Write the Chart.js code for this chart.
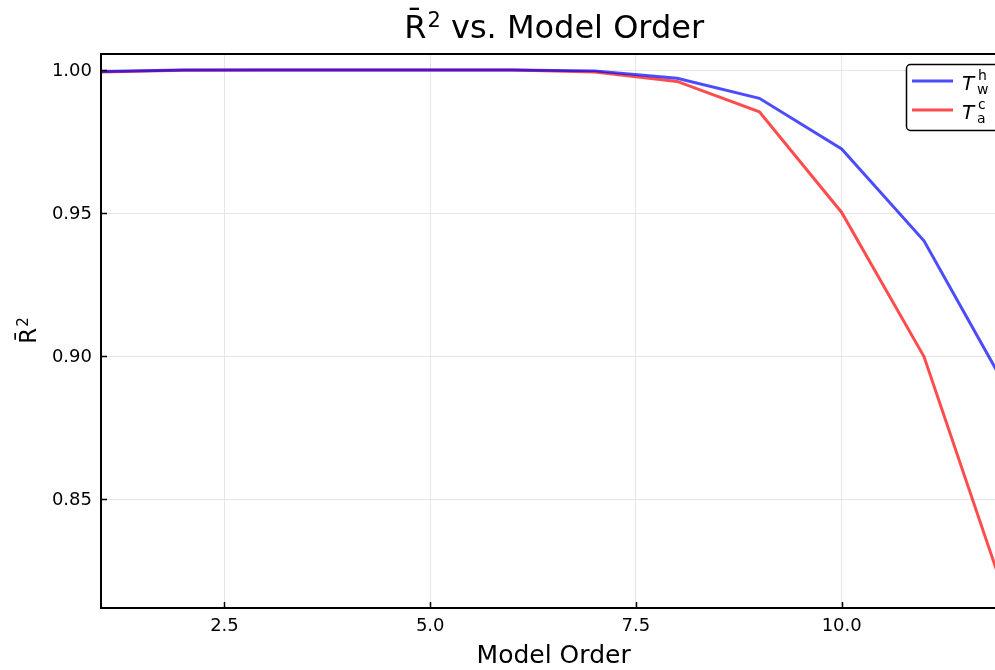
<!DOCTYPE html>
<html>
<head>
<meta charset="utf-8">
<script src="https://cdn.jsdelivr.net/npm/chart.js@4.4.1/dist/chart.umd.min.js"></script>
<style>
  html, body { margin: 0; padding: 0; background: #ffffff; }
  #wrap { width: 995px; height: 670px; position: relative; }
</style>
</head>
<body>
<div id="wrap"><canvas id="c" width="995" height="670"></canvas></div>
<script>
// Model orders evaluated
const modelOrder = [1, 2, 3, 4, 5, 6, 7, 8, 9, 10, 11, 12];
// Adjusted R² for each fitted temperature series
const r2Tw = [0.9995, 1.0, 1.0, 1.0, 1.0, 1.0, 0.9997, 0.9971, 0.9901, 0.9724, 0.9403, 0.8889];
const r2Ta = [0.9993, 0.9999, 1.0, 1.0, 1.0, 1.0, 0.9993, 0.9960, 0.9854, 0.9502, 0.8998, 0.8151];
// Tick positions
const xTicks = [2.5, 5.0, 7.5, 10.0];
const yTicks = [0.85, 0.90, 0.95, 1.00];
// Text
const titleMain = 'R\u0304';
const titleSup = '2';
const titleRest = ' vs. Model Order';
const xTitle = 'Model Order';
const yTitleMain = 'R\u0304';
const yTitleSup = '2';

const FONT = "'DejaVu Sans', sans-serif";

const toPoints = (xs, ys) => xs.map((x, i) => ({ x: x, y: ys[i] }));

// Draws "base" with a raised superscript, centred on (cx, baseline)
function drawSupText(ctx, cx, baseline, base, sup, rest, size, supSize, rise) {
  ctx.font = size + 'px ' + FONT;
  const w1 = ctx.measureText(base).width;
  const w3 = rest ? ctx.measureText(rest).width : 0;
  ctx.font = supSize + 'px ' + FONT;
  const w2 = ctx.measureText(sup).width;
  let x = cx - (w1 + w2 + w3) / 2;
  ctx.textAlign = 'left';
  ctx.textBaseline = 'alphabetic';
  ctx.font = size + 'px ' + FONT;
  ctx.fillText(base, x, baseline);
  x += w1;
  ctx.font = supSize + 'px ' + FONT;
  ctx.fillText(sup, x + 1, baseline - rise);
  x += w2 + 1;
  if (rest) {
    ctx.font = size + 'px ' + FONT;
    ctx.fillText(rest, x, baseline);
  }
}

// Titles, frame, inward tick marks and a boxed legend with sub/superscripted labels
const framePlugin = {
  id: 'frame',
  afterDatasetsDraw(chart) {
    const { ctx, chartArea: a, scales } = chart;
    ctx.save();
    ctx.strokeStyle = '#000';
    ctx.lineWidth = 2;
    ctx.beginPath();
    ctx.moveTo(a.right + 2, a.top);
    ctx.lineTo(a.left, a.top);
    ctx.lineTo(a.left, a.bottom);
    ctx.lineTo(a.right + 2, a.bottom);
    ctx.stroke();
    ctx.lineWidth = 1.5;
    ctx.beginPath();
    xTicks.forEach(v => {
      const px = Math.round(scales.x.getPixelForValue(v)) + 0.5;
      ctx.moveTo(px, a.bottom);
      ctx.lineTo(px, a.bottom - 6);
    });
    yTicks.forEach(v => {
      const py = Math.round(scales.y.getPixelForValue(v)) + 0.5;
      ctx.moveTo(a.left, py);
      ctx.lineTo(a.left + 6, py);
    });
    ctx.stroke();
    ctx.restore();
  },
  afterDraw(chart) {
    const { ctx, chartArea: a } = chart;
    // plot-centred horizontal position (plot box runs to x = 12)
    const cx = (a.left + chart.scales.x.getPixelForValue(12)) / 2;
    ctx.save();
    ctx.fillStyle = '#000';
    drawSupText(ctx, cx, 38, titleMain, titleSup, titleRest, 32, 21, 11);
    ctx.font = '25px ' + FONT;
    ctx.textAlign = 'center';
    ctx.textBaseline = 'alphabetic';
    ctx.fillText(xTitle, cx, 663);
    ctx.translate(36, (a.top + a.bottom) / 2);
    ctx.rotate(-Math.PI / 2);
    drawSupText(ctx, 0, 0, yTitleMain, yTitleSup, '', 23, 15, 8);
    ctx.restore();

    const x0 = 906.5, y0 = 64.5, w = 100, h = 66, r = 4;
    ctx.save();
    ctx.fillStyle = '#fff';
    ctx.strokeStyle = '#000';
    ctx.lineWidth = 1.5;
    ctx.beginPath();
    ctx.moveTo(x0 + r, y0);
    ctx.lineTo(x0 + w - r, y0);
    ctx.arcTo(x0 + w, y0, x0 + w, y0 + r, r);
    ctx.lineTo(x0 + w, y0 + h - r);
    ctx.arcTo(x0 + w, y0 + h, x0 + w - r, y0 + h, r);
    ctx.lineTo(x0 + r, y0 + h);
    ctx.arcTo(x0, y0 + h, x0, y0 + h - r, r);
    ctx.lineTo(x0, y0 + r);
    ctx.arcTo(x0, y0, x0 + r, y0, r);
    ctx.closePath();
    ctx.fill();
    ctx.stroke();

    const entries = [
      { color: 'rgba(0,0,255,0.7)', sup: 'h', sub: 'w', y: 81 },
      { color: 'rgba(255,0,0,0.7)', sup: 'c', sub: 'a', y: 110 }
    ];
    entries.forEach(e => {
      ctx.strokeStyle = e.color;
      ctx.lineWidth = 3;
      ctx.beginPath();
      ctx.moveTo(912, e.y);
      ctx.lineTo(953, e.y);
      ctx.stroke();
      ctx.fillStyle = '#000';
      ctx.textBaseline = 'alphabetic';
      ctx.textAlign = 'left';
      ctx.font = 'italic 20px ' + FONT;
      ctx.fillText('T', 962, e.y + 9);
      ctx.font = '14px ' + FONT;
      ctx.fillText(e.sup, 978, e.y - 1);
      ctx.fillText(e.sub, 977, e.y + 13);
    });
    ctx.restore();
  }
};

const chart = new Chart(document.getElementById('c'), {
  type: 'line',
  data: {
    datasets: [
      {
        label: 'T_w^h',
        data: toPoints(modelOrder, r2Tw),
        borderColor: 'rgba(0,0,255,0.7)',
        borderWidth: 3,
        pointRadius: 0,
        fill: false,
        tension: 0
      },
      {
        label: 'T_a^c',
        data: toPoints(modelOrder, r2Ta),
        borderColor: 'rgba(255,0,0,0.7)',
        borderWidth: 3,
        pointRadius: 0,
        fill: false,
        tension: 0
      }
    ]
  },
  options: {
    responsive: false,
    animation: false,
    devicePixelRatio: 1,
    layout: { padding: { left: 0, right: 0, top: 54, bottom: 0 } },
    plugins: {
      legend: { display: false },
      tooltip: { enabled: false },
      title: { display: false }
    },
    scales: {
      x: {
        type: 'linear',
        min: 1,
        max: 11.863,
        afterFit(s) { s.height = 62; },
        afterBuildTicks(s) { s.ticks = xTicks.map(v => ({ value: v })); },
        grid: { color: '#e6e6e6', lineWidth: 1, drawTicks: false },
        border: { display: false },
        ticks: {
          color: '#000',
          padding: 8,
          maxRotation: 0,
          font: { family: FONT, size: 18 },
          callback: v => Number(v).toFixed(1)
        }
      },
      y: {
        type: 'linear',
        min: 0.8119,
        max: 1.0056,
        afterFit(s) { s.width = 101; },
        afterBuildTicks(s) { s.ticks = yTicks.map(v => ({ value: v })); },
        grid: { color: '#e6e6e6', lineWidth: 1, drawTicks: false },
        border: { display: false },
        ticks: {
          color: '#000',
          padding: 9,
          labelOffset: 1,
          font: { family: FONT, size: 18 },
          callback: v => Number(v).toFixed(2)
        }
      }
    }
  },
  plugins: [framePlugin]
});
</script>
</body>
</html>
